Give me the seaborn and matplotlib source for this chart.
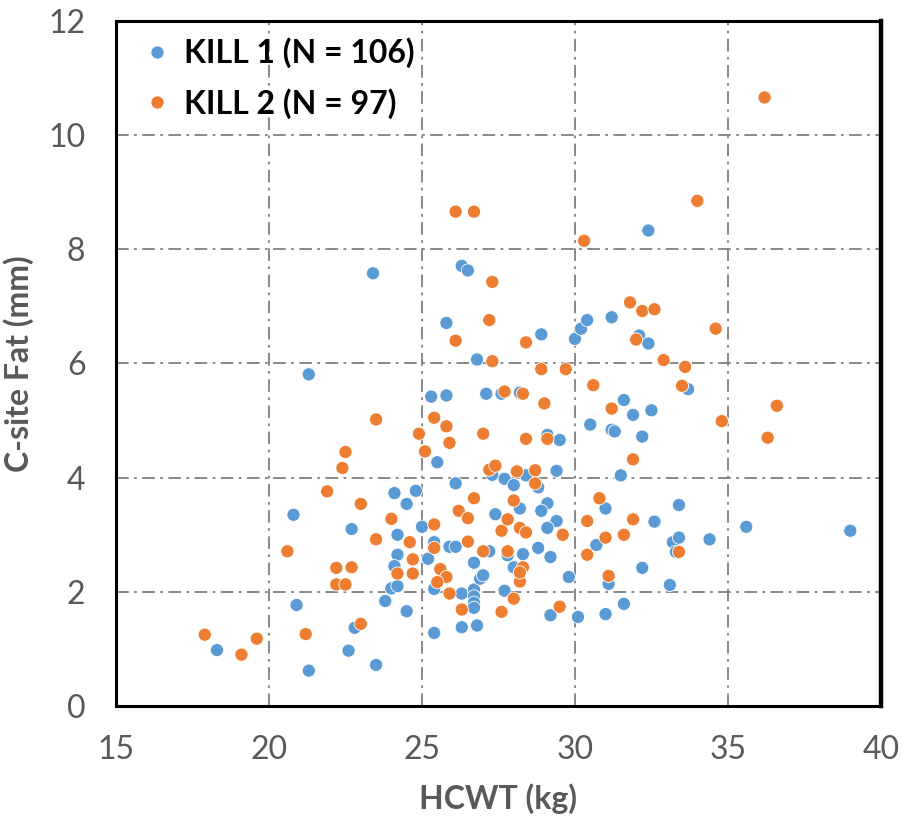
import matplotlib
matplotlib.use("Agg")
import matplotlib.pyplot as plt
import seaborn as sns
import pandas as pd

# HCWT (kg) and C-site fat depth (mm) for each kill group
kill1_hcwt = [18.3, 20.9, 21.3, 22.6, 22.8, 23.5, 23.8, 24.5, 25.4, 26.3, 26.3, 26.7, 26.7, 26.7,
              26.7, 26.8, 27.7, 29.2, 30.1, 31.0, 31.6, 24.0, 24.2, 25.4, 20.8, 22.7, 24.1, 24.8,
              24.5, 24.2, 25.0, 24.2, 24.1, 25.4, 25.2, 25.9, 26.1, 26.7, 26.9, 27.0, 26.1, 27.4,
              27.2, 27.3, 27.7, 28.4, 28.8, 28.0, 29.4, 31.5, 28.2, 29.1, 28.9, 29.4, 29.1, 27.8,
              28.3, 28.8, 29.2, 28.0, 29.8, 31.0, 32.6, 33.4, 35.6, 39.0, 30.7, 33.2, 33.4, 34.4,
              33.3, 32.2, 31.1, 33.1, 21.3, 25.3, 25.8, 25.5, 27.1, 27.6, 26.8, 28.2, 33.7, 31.6,
              32.5, 31.9, 30.5, 31.2, 31.3, 32.2, 29.1, 29.5, 23.4, 26.3, 26.5, 25.8, 28.9, 30.0,
              30.2, 30.4, 31.2, 32.1, 32.4, 32.4]
kill1_fat = [0.98, 1.77, 0.62, 0.97, 1.37, 0.72, 1.84, 1.66, 1.28, 1.97, 1.38, 2.04, 1.92, 1.81,
             1.72, 1.41, 2.02, 1.59, 1.56, 1.61, 1.79, 2.06, 2.10, 2.05, 3.35, 3.10, 3.73, 3.77,
             3.54, 3.00, 3.14, 2.65, 2.45, 2.87, 2.58, 2.79, 2.79, 2.51, 2.23, 2.29, 3.90, 3.36,
             2.71, 4.05, 3.98, 4.04, 3.83, 3.87, 4.12, 4.04, 3.46, 3.55, 3.42, 3.24, 3.12, 2.64,
             2.66, 2.77, 2.61, 2.43, 2.26, 3.46, 3.23, 3.52, 3.14, 3.07, 2.82, 2.87, 2.95, 2.92,
             2.70, 2.42, 2.14, 2.12, 5.81, 5.42, 5.44, 4.27, 5.47, 5.47, 6.07, 5.49, 5.55, 5.36,
             5.18, 5.10, 4.93, 4.84, 4.81, 4.72, 4.75, 4.66, 7.58, 7.71, 7.63, 6.71, 6.51, 6.43,
             6.61, 6.76, 6.81, 6.49, 6.35, 8.33]

kill2_hcwt = [17.9, 19.1, 19.6, 21.2, 23.0, 25.9, 26.3, 27.6, 28.0, 29.5, 28.2, 21.9, 20.6, 23.0,
              22.2, 22.7, 22.2, 22.5, 24.0, 23.5, 24.6, 25.4, 24.7, 24.2, 24.7, 25.4, 26.5, 25.6,
              25.8, 25.5, 26.7, 26.2, 26.5, 27.6, 27.0, 27.8, 27.8, 27.2, 27.4, 28.1, 28.7, 28.7,
              28.0, 28.2, 28.4, 29.6, 28.3, 28.2, 30.8, 30.4, 31.9, 31.0, 31.6, 30.4, 33.4, 31.1,
              23.5, 25.4, 25.8, 24.9, 25.9, 25.1, 22.5, 22.4, 27.0, 27.7, 27.3, 28.9, 29.7, 32.9,
              33.6, 28.3, 29.0, 30.6, 33.5, 31.2, 36.6, 34.8, 36.3, 29.1, 28.4, 31.9, 27.3, 27.2,
              26.1, 28.4, 31.8, 32.2, 32.6, 32.0, 34.6, 36.2, 26.1, 26.7, 34.0, 30.3]
kill2_fat = [1.25, 0.90, 1.18, 1.26, 1.44, 1.97, 1.69, 1.65, 1.88, 1.74, 2.18, 3.76, 2.71, 3.54,
             2.42, 2.43, 2.13, 2.13, 3.28, 2.92, 2.87, 3.18, 2.57, 2.32, 2.32, 2.77, 2.88, 2.40,
             2.26, 2.17, 3.64, 3.42, 3.29, 3.07, 2.71, 3.27, 2.71, 4.14, 4.21, 4.11, 4.13, 3.90,
             3.60, 3.12, 3.04, 3.00, 2.43, 2.34, 3.64, 3.24, 3.27, 2.95, 3.00, 2.65, 2.70, 2.28,
             5.02, 5.05, 4.90, 4.77, 4.61, 4.46, 4.45, 4.17, 4.77, 5.51, 6.04, 5.90, 5.90, 6.06,
             5.94, 5.47, 5.30, 5.62, 5.61, 5.21, 5.26, 4.99, 4.70, 4.68, 4.68, 4.32, 7.43, 6.76,
             6.40, 6.37, 7.07, 6.92, 6.95, 6.42, 6.61, 10.66, 8.66, 8.66, 8.85, 8.15]

groups = ["KILL 1 (N = 106)", "KILL 2 (N = 97)"]
x_ticks = [15, 20, 25, 30, 35, 40]
y_ticks = [0, 2, 4, 6, 8, 10, 12]

df = pd.concat([
    pd.DataFrame({"HCWT": kill1_hcwt, "Fat": kill1_fat, "Group": groups[0]}),
    pd.DataFrame({"HCWT": kill2_hcwt, "Fat": kill2_fat, "Group": groups[1]}),
], ignore_index=True)

sns.set_theme(style="white")
plt.rcParams["font.family"] = ["Lato", "DejaVu Sans"]

fig = plt.figure(figsize=(9.03, 8.22), dpi=100)
ax = fig.add_axes([0.1285, 0.1411, 0.8470, 0.8334])

palette = {groups[0]: "#5B9BD5", groups[1]: "#ED7D31"}
sns.scatterplot(data=df, x="HCWT", y="Fat", hue="Group", palette=palette,
                s=90, edgecolor="white", linewidth=0.6, ax=ax, zorder=3)

ax.set_xlim(15, 40)
ax.set_ylim(0, 12)
ax.set_xticks(x_ticks)
ax.set_yticks(y_ticks)
ax.tick_params(axis="both", length=0, labelsize=23, colors="#595959")
ax.tick_params(axis="x", pad=21)
ax.tick_params(axis="y", pad=22)

ax.set_axisbelow(True)
ax.grid(True, color="#7f7f7f", linestyle=(0, (7, 3, 1.5, 3)), linewidth=1.3)

for side in ["left", "right", "top", "bottom"]:
    ax.spines[side].set_color("black")
    ax.spines[side].set_linewidth(2.2)
    ax.spines[side].set_visible(True)
ax.spines["right"].set_linewidth(3.2)

ax.set_xlabel("HCWT (kg)", fontsize=23, fontweight="bold", color="#595959", labelpad=13)
ax.set_ylabel("C-site Fat (mm)", fontsize=23, fontweight="bold", color="#595959", labelpad=10)

leg = ax.legend(loc="upper left", frameon=False, markerscale=1.0,
                handletextpad=0.05, labelspacing=0.62, borderaxespad=0.0,
                handlelength=1.6, bbox_to_anchor=(0.003, 0.995),
                prop={"family": ["Lato", "DejaVu Sans"], "weight": "bold", "size": 23})
for t in leg.get_texts():
    t.set_color("black")

fig.savefig("out.png", dpi=100)
